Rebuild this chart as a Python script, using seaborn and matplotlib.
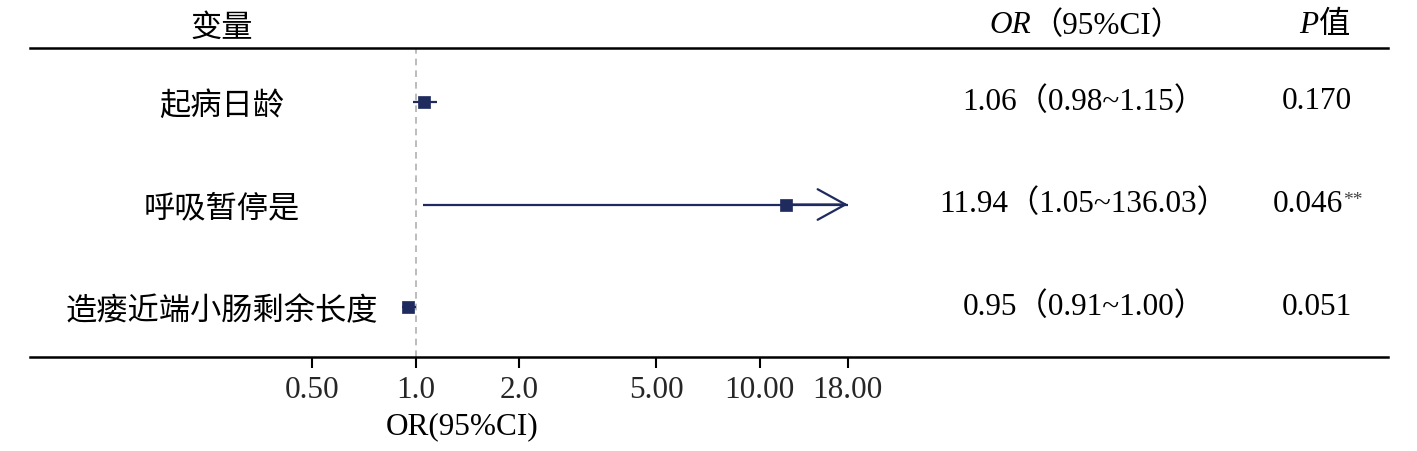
import matplotlib
matplotlib.use("Agg")
import matplotlib.pyplot as plt
import pandas as pd
import seaborn as sns
from matplotlib.ticker import NullLocator
from matplotlib.transforms import blended_transform_factory


variables = ["起病日龄", "呼吸暂停是", "造瘘近端小肠剩余长度"]
or_vals = [1.06, 11.94, 0.95]
ci_low = [0.98, 1.05, 0.91]
ci_high = [1.15, 136.03, 1.00]
or_labels = ["1.06（0.98~1.15）", "11.94（1.05~136.03）", "0.95（0.91~1.00）"]
p_labels = ["0.170", "0.046", "0.051"]
p_marks = ["", "**", ""]
tick_vals = [0.5, 1.0, 2.0, 5.0, 10.0, 18.0]
tick_labels = ["0.50", "1.0", "2.0", "5.00", "10.00", "18.00"]

NAVY = "#1f2b5e"
CLIP_MAX = 18.0
FS = 22.5


def style() -> None:
    sns.set_theme(style="white")
    plt.rcParams["font.family"] = ["Liberation Serif", "Noto Sans CJK SC"]
    plt.rcParams["text.color"] = "black"


def main() -> None:
    style()
    df = pd.DataFrame({
        "var": variables,
        "or": or_vals,
        "lo": ci_low,
        "hi": ci_high,
        "row": [1, 2, 3],
    })

    fig = plt.figure(figsize=(14.17, 4.51), dpi=100)
    ax = fig.add_axes([0.0212, 0.2084, 0.9583, 0.6852])
    ax.set_xscale("log")

    # reference line at OR = 1
    ax.axvline(1.0, color="#b0b0b0", lw=1.2, ls=(0, (4, 3)), zorder=1)

    # confidence intervals (arrow when upper bound runs past the plotted range)
    for _, r in df.iterrows():
        if r["hi"] > CLIP_MAX:
            ax.hlines(r["row"], r["lo"], CLIP_MAX, color=NAVY, lw=1.6, zorder=2)
            ax.annotate("", xy=(CLIP_MAX, r["row"]), xytext=(r["or"], r["row"]),
                        arrowprops=dict(arrowstyle="->,head_length=1.0,head_width=0.55",
                                        mutation_scale=20, lw=1.6, color=NAVY,
                                        shrinkA=0, shrinkB=0), zorder=2)
        else:
            ax.hlines(r["row"], r["lo"], r["hi"], color=NAVY, lw=1.6, zorder=2)

    sns.scatterplot(data=df, x="or", y="row", marker="s", s=80, color=NAVY,
                    edgecolor=NAVY, linewidth=0.5, zorder=3, ax=ax, legend=False)
    ax.set_ylim(3.485, 0.476)
    ax.set_xlim(0.0758, 668)

    for side in ["left", "right"]:
        ax.spines[side].set_visible(False)
    for side in ["top", "bottom"]:
        ax.spines[side].set_visible(True)
        ax.spines[side].set_color("black")
        ax.spines[side].set_linewidth(1.8)
    ax.set_yticks([])
    ax.set_xticks(tick_vals)
    ax.set_xticklabels(tick_labels)
    ax.xaxis.set_minor_locator(NullLocator())
    ax.tick_params(axis="x", bottom=True, direction="out", length=8, width=1.5,
                   color="black", labelsize=FS, pad=6)
    ax.set_xlabel("")
    ax.set_ylabel("")
    ax.text(0.318, -0.225, "OR(95%CI)", transform=ax.transAxes, ha="center",
            va="center", fontsize=FS)

    # table columns
    trans = blended_transform_factory(ax.transAxes, ax.transData)
    col_var, col_or, col_p = 0.1414, 0.776, 0.9477
    head_y = 1.072
    cjk_shift = 0.05  # CJK glyphs sit a little high with va="center"
    ax.text(col_var, head_y - 0.012, "变量", transform=ax.transAxes, ha="center", va="center", fontsize=FS)
    ax.text(0.737, head_y, "OR", transform=ax.transAxes, ha="right", va="center",
            fontsize=FS, style="italic")
    ax.text(0.737, head_y, "（95%CI）", transform=ax.transAxes, ha="left", va="center", fontsize=FS)
    ax.text(0.949, head_y, "P", transform=ax.transAxes, ha="right", va="center",
            fontsize=FS, style="italic")
    ax.text(0.949, head_y, "值", transform=ax.transAxes, ha="left", va="center", fontsize=FS)

    for i, r in df.iterrows():
        ax.text(col_var, r["row"] + cjk_shift, r["var"], transform=trans, ha="center",
                va="center", fontsize=FS)
        ax.text(col_or, r["row"], or_labels[i], transform=trans, ha="center", va="center", fontsize=FS)
        if p_marks[i]:
            t = ax.text(col_p - 0.007, r["row"], p_labels[i], transform=trans, ha="center",
                        va="center", fontsize=FS)
            ax.annotate(p_marks[i], xy=(1.0, 0.92), xycoords=t, ha="left", va="top",
                        fontsize=14, color="#444444")
        else:
            ax.text(col_p, r["row"], p_labels[i], transform=trans, ha="center", va="center", fontsize=FS)

    fig.savefig("out.png", dpi=100)
    plt.close(fig)


if __name__ == "__main__":
    main()
